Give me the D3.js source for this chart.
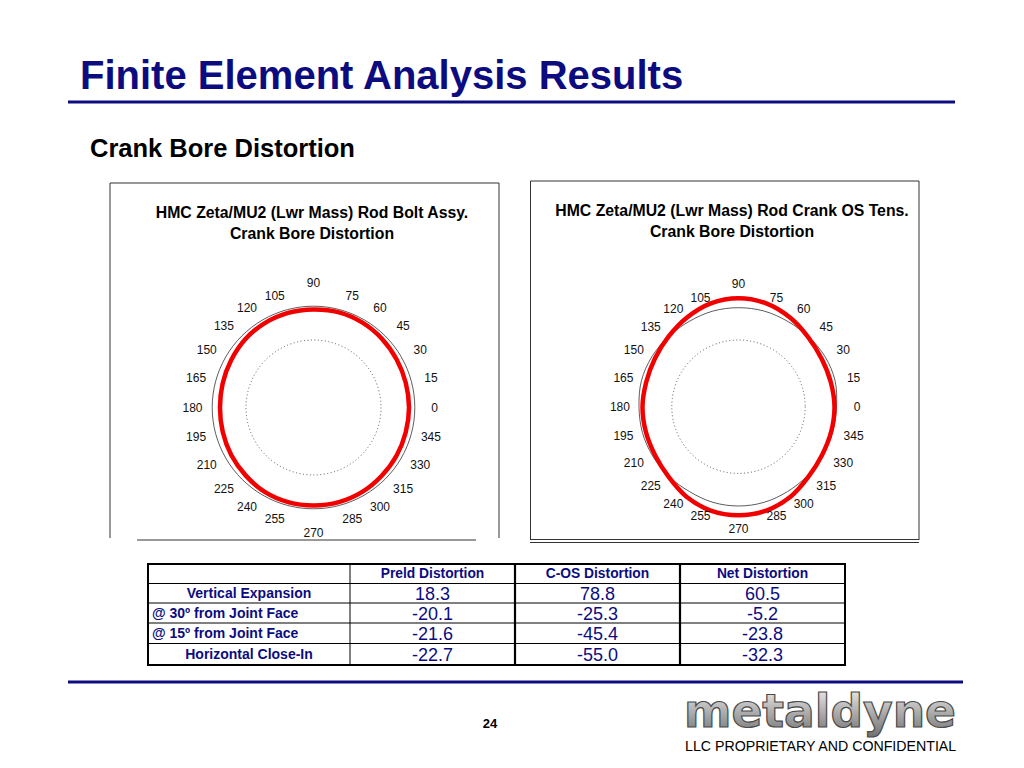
<!DOCTYPE html>
<html lang="en">
<head>
  <meta charset="UTF-8">
  <title>Finite Element Analysis Results</title>
  <script src="https://d3js.org/d3.v7.min.js"></script>
  <style>
    body { margin: 0; background: #fff; }
    svg { display: block; font-family: Arial, "Liberation Sans", Helvetica, sans-serif; }
  </style>
</head>
<body>
  <svg width="1024" height="768"></svg>
  <script>
  // polar angle labels (degrees)
  var tickAngles = [0, 15, 30, 45, 60, 75, 90, 105, 120, 135, 150, 165,
                    180, 195, 210, 225, 240, 255, 270, 285, 300, 315, 330, 345];

  // left chart: rod bolt assy (preload) bore shape, radius
  var boltRadius = [95.5, 95.5, 96, 97, 98, 98.5, 98, 98, 97.5, 96.5, 95, 94,
                    93.5, 94, 95, 96, 97.5, 98, 98, 98, 97.5, 96.5, 96, 95.5];
  var boltReference = 101.3;
  var boltGrid = 67.5;

  // right chart: crank OS tension bore shape and the thin reference shape
  var cosRadius = [96, 95.5, 96, 98.5, 103, 107, 108.5, 107, 103, 99, 96.5, 95.5,
                   96, 96, 96.5, 99, 104, 107.5, 108.5, 107.5, 104, 99, 96.5, 96];
  var cosReference = [98, 100, 100, 99, 98.5, 99, 99, 99, 98.5, 99, 100, 100.5,
                      99.5, 99.5, 99, 98.5, 98, 99, 99.3, 99, 98, 97.5, 97.5, 97.5];
  var cosGrid = 66.7;

  var chartTitles = [
    ["HMC Zeta/MU2 (Lwr Mass) Rod Bolt Assy.", "Crank Bore Distortion"],
    ["HMC Zeta/MU2 (Lwr Mass) Rod Crank OS Tens.", "Crank Bore Distortion"]
  ];

  // table
  var tableColumns = ["Preld Distortion", "C-OS Distortion", "Net Distortion"];
  var tableRows = ["Vertical Expansion", "@ 30º from Joint Face", "@ 15º from Joint Face", "Horizontal Close-In"];
  var preldValues = [18.3, -20.1, -21.6, -22.7];
  var cosValues = [78.8, -25.3, -45.4, -55.0];
  var netValues = [60.5, -5.2, -23.8, -32.3];

  var navy = "#0c0c80";
  var svg = d3.select("svg");

  // ---- header ----
  svg.append("text")
      .attr("x", 80).attr("y", 89)
      .attr("font-size", 40).attr("font-weight", "bold")
      .attr("fill", navy)
      .text("Finite Element Analysis Results");
  svg.append("line")
      .attr("x1", 68).attr("x2", 955).attr("y1", 102).attr("y2", 102)
      .attr("stroke", navy).attr("stroke-width", 3);
  svg.append("text")
      .attr("x", 90).attr("y", 157)
      .attr("font-size", 25.5).attr("font-weight", "bold")
      .attr("fill", "#000")
      .text("Crank Bore Distortion");

  // ---- polar charts ----
  var r = d3.scaleLinear().domain([0, 100]).range([0, 100]);
  var toRad = function(a) { return (90 - a) * Math.PI / 180; };   // 0 deg at 3 o'clock, ccw

  var radial = d3.lineRadial()
      .angle(function(d) { return toRad(d[0]); })
      .radius(function(d) { return r(d[1]); })
      .curve(d3.curveCardinalClosed);

  function polarChart(opt) {
    var box = svg.append("g");
    // frame
    box.append("path")
        .attr("d", "M" + opt.x0 + "," + opt.y1 + "V" + opt.y0 + "H" + opt.x1 + "V" + opt.y1)
        .attr("fill", "none").attr("stroke", "#333").attr("stroke-width", 1);
    opt.bottom(box);

    box.selectAll("text.title")
        .data(opt.title)
      .enter().append("text")
        .attr("class", "title")
        .attr("x", opt.tx).attr("y", function(d, i) { return opt.ty + i * 21; })
        .attr("text-anchor", "middle")
        .attr("font-size", 15.8).attr("font-weight", "bold")
        .text(function(d) { return d; });

    var g = box.append("g").attr("transform", "translate(" + opt.cx + "," + opt.cy + ")");

    g.append("circle")
        .attr("r", r(opt.grid))
        .attr("fill", "none").attr("stroke", "#333")
        .attr("stroke-width", 0.8).attr("stroke-dasharray", "1,2.5");

    g.append("path")
        .datum(tickAngles.map(function(a, i) { return [a, opt.reference[i]]; }))
        .attr("fill", "none").attr("stroke", "#333").attr("stroke-width", 0.8)
        .attr("d", radial);

    g.append("path")
        .datum(tickAngles.map(function(a, i) { return [a, opt.values[i]]; }))
        .attr("fill", "none").attr("stroke", "#f20000").attr("stroke-width", 4.5)
        .attr("d", radial);

    // spoke labels: pushed out sideways near the top/bottom, like the source plot
    var k = opt.k;
    g.selectAll("text.tick")
        .data(tickAngles)
      .enter().append("text")
        .attr("class", "tick")
        .attr("x", function(d) {
          var c = Math.cos(d * Math.PI / 180), s = Math.sin(d * Math.PI / 180);
          if (Math.abs(c) < 1e-6) return 0;
          return k * (121 * c + 8 * Math.sign(c) * s * s);
        })
        .attr("y", function(d) {
          var c = Math.cos(d * Math.PI / 180), s = Math.sin(d * Math.PI / 180);
          if (Math.abs(c) < 1e-6) return -k * 125 * s;
          return -k * 115 * s;
        })
        .attr("text-anchor", "middle")
        .attr("dominant-baseline", "central")
        .attr("font-size", 12)
        .attr("fill", "#111")
        .text(function(d) { return d; });
  }

  polarChart({
    x0: 110, x1: 499, y0: 183, y1: 538,
    cx: 313.5, cy: 407.5, k: 1,
    tx: 312, ty: 218,
    title: chartTitles[0],
    values: boltRadius,
    reference: tickAngles.map(function() { return boltReference; }),
    grid: boltGrid,
    bottom: function(box) {
      box.append("line").attr("x1", 137).attr("x2", 476).attr("y1", 540).attr("y2", 540)
          .attr("stroke", "#333");
    }
  });

  polarChart({
    x0: 530.5, x1: 919, y0: 181, y1: 540,
    cx: 738.5, cy: 406.7, k: 0.98,
    tx: 732, ty: 216,
    title: chartTitles[1],
    values: cosRadius,
    reference: cosReference,
    grid: cosGrid,
    bottom: function(box) {
      box.append("line").attr("x1", 530).attr("x2", 919).attr("y1", 539.5).attr("y2", 539.5)
          .attr("stroke", "#333");
      box.append("line").attr("x1", 530).attr("x2", 919).attr("y1", 542.5).attr("y2", 542.5)
          .attr("stroke", "#333");
    }
  });

  // ---- table ----
  var colEdges = [148, 350, 515, 680, 845];
  var rowEdges = [564, 583.5, 603, 623, 643.5, 665];
  var columnValues = [preldValues, cosValues, netValues];
  var tbl = svg.append("g");

  tbl.selectAll("line.h")
      .data(rowEdges.slice(1, -1))
    .enter().append("line")
      .attr("x1", colEdges[0]).attr("x2", colEdges[4])
      .attr("y1", function(d) { return d; }).attr("y2", function(d) { return d; })
      .attr("stroke", "#000").attr("stroke-width", 1);
  tbl.selectAll("line.v")
      .data(colEdges.slice(1, -1))
    .enter().append("line")
      .attr("x1", function(d) { return d; }).attr("x2", function(d) { return d; })
      .attr("y1", rowEdges[0]).attr("y2", rowEdges[5])
      .attr("stroke", "#000").attr("stroke-width", function(d, i) { return i === 0 ? 1 : 2.2; });
  tbl.append("rect")
      .attr("x", colEdges[0]).attr("y", rowEdges[0])
      .attr("width", colEdges[4] - colEdges[0]).attr("height", rowEdges[5] - rowEdges[0])
      .attr("fill", "none").attr("stroke", "#000").attr("stroke-width", 2);

  tbl.selectAll("text.col")
      .data(tableColumns)
    .enter().append("text")
      .attr("x", function(d, i) { return (colEdges[i + 1] + colEdges[i + 2]) / 2; })
      .attr("y", (rowEdges[0] + rowEdges[1]) / 2 + 4.5)
      .attr("text-anchor", "middle")
      .attr("font-size", 13.8).attr("font-weight", "bold").attr("fill", navy)
      .text(function(d) { return d; });

  tbl.selectAll("text.row")
      .data(tableRows)
    .enter().append("text")
      .attr("x", function(d) { return d.charAt(0) === "@" ? colEdges[0] + 4 : (colEdges[0] + colEdges[1]) / 2; })
      .attr("y", function(d, i) { return (rowEdges[i + 1] + rowEdges[i + 2]) / 2 + 5; })
      .attr("text-anchor", function(d) { return d.charAt(0) === "@" ? "start" : "middle"; })
      .attr("font-size", 14).attr("font-weight", "bold").attr("fill", navy)
      .text(function(d) { return d; });

  columnValues.forEach(function(vals, c) {
    tbl.selectAll("text.val" + c)
        .data(vals)
      .enter().append("text")
        .attr("x", (colEdges[c + 1] + colEdges[c + 2]) / 2)
        .attr("y", function(d, i) { return (rowEdges[i + 1] + rowEdges[i + 2]) / 2 + 6.5; })
        .attr("text-anchor", "middle")
        .attr("font-size", 18).attr("fill", navy)
        .text(function(d) { return d.toFixed(1); });
  });

  // ---- footer ----
  svg.append("line")
      .attr("x1", 68).attr("x2", 963).attr("y1", 682).attr("y2", 682)
      .attr("stroke", navy).attr("stroke-width", 3);
  svg.append("text")
      .attr("x", 490).attr("y", 728)
      .attr("text-anchor", "middle")
      .attr("font-size", 13).attr("font-weight", "bold")
      .text("24");

  var defs = svg.append("defs");
  var grad = defs.append("linearGradient")
      .attr("id", "metal").attr("x1", 0).attr("y1", 0).attr("x2", 0).attr("y2", 1);
  grad.append("stop").attr("offset", "0%").attr("stop-color", "#f4f4f4");
  grad.append("stop").attr("offset", "40%").attr("stop-color", "#bdbdbd");
  grad.append("stop").attr("offset", "100%").attr("stop-color", "#6e6e6e");

  // logo word, stretched vertically so its x-height matches the mark
  svg.append("g")
      .attr("transform", "translate(684,727) scale(1,1.2)")
    .append("text")
      .attr("x", 0).attr("y", 0)
      .attr("textLength", 272).attr("lengthAdjust", "spacingAndGlyphs")
      .attr("font-family", "'DejaVu Sans', sans-serif")
      .attr("font-size", 38).attr("font-weight", "bold")
      .attr("fill", "url(#metal)").attr("stroke", "#4a4a4a").attr("stroke-width", 1)
      .text("metaldyne");
  svg.append("text")
      .attr("x", 685).attr("y", 751)
      .attr("font-size", 14.2).attr("fill", "#000")
      .text("LLC PROPRIETARY AND CONFIDENTIAL");
  </script>
</body>
</html>
